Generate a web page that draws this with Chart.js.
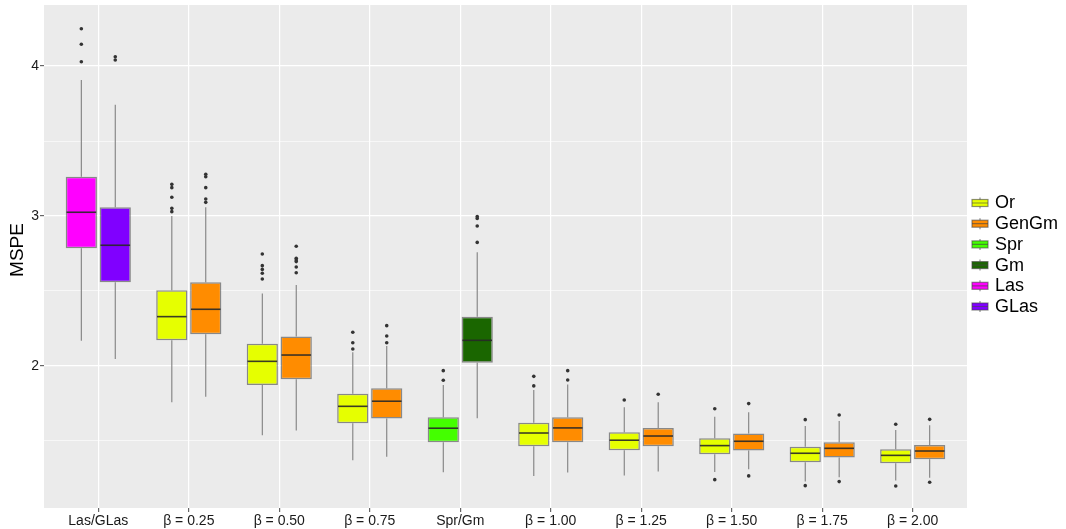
<!DOCTYPE html>
<html lang="en">
<head>
    <meta charset="UTF-8">
    <title>MSPE boxplots</title>
    <script src="https://cdn.jsdelivr.net/npm/chart.js"></script>
    <style>
        body { margin: 0; background: #fff; }
        #wrap { width: 1066px; height: 529px; }
    </style>
</head>
<body>
    <div id="wrap"><canvas id="box-chart"></canvas></div>

    <script>
        const categories = ['Las/GLas', 'β = 0.25', 'β = 0.50', 'β = 0.75', 'Spr/Gm',
            'β = 1.00', 'β = 1.25', 'β = 1.50', 'β = 1.75', 'β = 2.00'];
        const yTicks = [1.5, 2, 2.5, 3, 3.5, 4];

        const methods = ['Or', 'GenGm', 'Spr', 'Gm', 'Las', 'GLas'];
        const methodColors = ['#E6FF00', '#FF8C00', '#44FF00', '#1A6600', '#FF00FF', '#8000FF'];

        // left box of each pair
        const leftMethod = ['Las', 'Or', 'Or', 'Or', 'Spr', 'Or', 'Or', 'Or', 'Or', 'Or'];
        const leftLow = [2.169, 1.758, 1.538, 1.371, 1.291, 1.267, 1.269, 1.293, 1.229, 1.236];
        const leftQ1 = [2.785, 2.171, 1.873, 1.618, 1.491, 1.465, 1.438, 1.411, 1.358, 1.351];
        const leftMedian = [3.025, 2.329, 2.031, 1.731, 1.585, 1.553, 1.505, 1.469, 1.418, 1.404];
        const leftQ3 = [3.262, 2.505, 2.149, 1.815, 1.658, 1.622, 1.558, 1.518, 1.462, 1.444];
        const leftHigh = [3.907, 3.0, 2.484, 2.091, 1.873, 1.84, 1.725, 1.662, 1.6, 1.573];
        const leftOutliers = [
            [4.249, 4.145, 4.029],
            [3.211, 3.189, 3.125, 3.051, 3.029],
            [2.747, 2.669, 2.644, 2.618, 2.58],
            [2.225, 2.155, 2.113],
            [1.969, 1.905],
            [1.931, 1.867],
            [1.773],
            [1.715, 1.242],
            [1.642, 1.202],
            [1.611, 1.2]
        ];

        // right box of each pair
        const rightMethod = ['GLas', 'GenGm', 'GenGm', 'GenGm', 'Gm', 'GenGm', 'GenGm', 'GenGm', 'GenGm', 'GenGm'];
        const rightLow = [2.047, 1.795, 1.569, 1.395, 1.651, 1.289, 1.296, 1.311, 1.258, 1.255];
        const rightQ1 = [2.558, 2.211, 1.911, 1.649, 2.022, 1.491, 1.465, 1.436, 1.389, 1.378];
        const rightMedian = [2.805, 2.378, 2.073, 1.765, 2.171, 1.587, 1.533, 1.498, 1.451, 1.433];
        const rightQ3 = [3.058, 2.558, 2.196, 1.851, 2.329, 1.658, 1.587, 1.549, 1.491, 1.473];
        const rightHigh = [3.742, 3.058, 2.54, 2.133, 2.758, 1.876, 1.758, 1.691, 1.633, 1.604];
        const rightOutliers = [
            [4.062, 4.04],
            [3.278, 3.262, 3.189, 3.113, 3.091],
            [2.798, 2.718, 2.707, 2.696, 2.66, 2.622],
            [2.269, 2.2, 2.155],
            [2.996, 2.984, 2.933, 2.824],
            [1.969, 1.907],
            [1.811],
            [1.749, 1.267],
            [1.673, 1.229],
            [1.644, 1.225]
        ];

        const boxes = [
            { method: leftMethod, low: leftLow, q1: leftQ1, med: leftMedian, q3: leftQ3, high: leftHigh, out: leftOutliers },
            { method: rightMethod, low: rightLow, q1: rightQ1, med: rightMedian, q3: rightQ3, high: rightHigh, out: rightOutliers }
        ];

        function colorOf(name) {
            return methodColors[methods.indexOf(name)];
        }

        const FONT = 'Liberation Sans, Arial, sans-serif';
        const BOX_LINE = 'rgba(70, 70, 70, 0.6)';

        const panelPlugin = {
            id: 'panel',
            beforeDraw(chart) {
                const a = chart.chartArea;
                const ctx = chart.ctx;
                ctx.save();
                ctx.fillStyle = '#EBEBEB';
                ctx.fillRect(a.left, a.top, a.right - a.left, a.bottom - a.top);
                ctx.restore();
            },
            beforeDatasetsDraw(chart) {
                // whiskers, drawn under the boxes
                const y = chart.scales.y;
                const ctx = chart.ctx;
                ctx.save();
                ctx.strokeStyle = '#808080';
                ctx.lineWidth = 1.1;
                boxes.forEach((b, d) => {
                    chart.getDatasetMeta(d).data.forEach((bar, i) => {
                        ctx.beginPath();
                        ctx.moveTo(bar.x, y.getPixelForValue(b.high[i]));
                        ctx.lineTo(bar.x, y.getPixelForValue(b.q3[i]));
                        ctx.moveTo(bar.x, y.getPixelForValue(b.q1[i]));
                        ctx.lineTo(bar.x, y.getPixelForValue(b.low[i]));
                        ctx.stroke();
                    });
                });
                ctx.restore();
            },
            afterDatasetsDraw(chart) {
                const y = chart.scales.y;
                const ctx = chart.ctx;
                ctx.save();
                boxes.forEach((b, d) => {
                    chart.getDatasetMeta(d).data.forEach((bar, i) => {
                        const half = bar.width / 2 - 0.8;
                        const ym = y.getPixelForValue(b.med[i]);
                        ctx.strokeStyle = 'rgba(40, 40, 40, 0.9)';
                        ctx.lineWidth = 1.6;
                        ctx.beginPath();
                        ctx.moveTo(bar.x - half, ym);
                        ctx.lineTo(bar.x + half, ym);
                        ctx.stroke();
                        ctx.fillStyle = '#333333';
                        b.out[i].forEach(v => {
                            ctx.beginPath();
                            ctx.arc(bar.x, y.getPixelForValue(v), 1.8, 0, Math.PI * 2);
                            ctx.fill();
                        });
                    });
                });
                ctx.restore();
            },
            afterDraw(chart) {
                const ctx = chart.ctx;
                ctx.save();
                // y axis title
                ctx.translate(17.5, 250);
                ctx.rotate(-Math.PI / 2);
                ctx.fillStyle = '#000';
                ctx.font = '19px ' + FONT;
                ctx.textAlign = 'center';
                ctx.textBaseline = 'middle';
                ctx.fillText('MSPE', 0, 0);
                ctx.restore();

                // legend
                ctx.save();
                ctx.font = '18px ' + FONT;
                ctx.textBaseline = 'middle';
                methods.forEach((m, k) => {
                    const cy = 203 + k * 20.7;
                    ctx.fillStyle = methodColors[k];
                    ctx.fillRect(972, cy - 3.5, 16, 7);
                    ctx.strokeStyle = BOX_LINE;
                    ctx.lineWidth = 1.2;
                    ctx.strokeRect(972, cy - 3.5, 16, 7);
                    ctx.beginPath();
                    ctx.moveTo(972, cy);
                    ctx.lineTo(988, cy);
                    ctx.moveTo(980, cy - 5.5);
                    ctx.lineTo(980, cy - 3.5);
                    ctx.moveTo(980, cy + 3.5);
                    ctx.lineTo(980, cy + 5.5);
                    ctx.stroke();
                    ctx.fillStyle = '#000';
                    ctx.fillText(m, 995, cy + 0.5);
                });
                ctx.restore();
            }
        };

        const datasets = boxes.map((b, d) => ({
            label: d === 0 ? 'left' : 'right',
            data: categories.map((c, i) => ({ x: i + 1, y: [b.q1[i], b.q3[i]] })),
            backgroundColor: b.method.map(colorOf),
            borderColor: BOX_LINE,
            borderWidth: 1.5,
            borderSkipped: false,
            categoryPercentage: 0.75,
            barPercentage: 0.92
        }));

        new Chart(document.getElementById('box-chart').getContext('2d'), {
            type: 'bar',
            data: { datasets: datasets },
            options: {
                responsive: true,
                maintainAspectRatio: false,
                animation: false,
                layout: { padding: { left: 0, right: 99, top: 5, bottom: 0 } },
                plugins: {
                    legend: { display: false },
                    tooltip: { enabled: false }
                },
                scales: {
                    x: {
                        type: 'linear',
                        min: 0.4,
                        max: 10.6,
                        offset: false,
                        afterBuildTicks: s => { s.ticks = categories.map((c, i) => ({ value: i + 1 })); },
                        afterFit: s => { s.height = 21; s.paddingLeft = 0; s.paddingRight = 0; },
                        border: { display: false },
                        grid: {
                            offset: false,
                            color: '#FFFFFF',
                            lineWidth: 1.2,
                            tickColor: '#666666',
                            tickLength: 4
                        },
                        ticks: {
                            padding: 1,
                            color: '#1a1a1a',
                            font: { family: FONT, size: 14 },
                            maxRotation: 0,
                            autoSkip: false,
                            callback: v => categories[Math.round(v) - 1]
                        }
                    },
                    y: {
                        min: 1.053,
                        max: 4.407,
                        afterBuildTicks: s => { s.ticks = yTicks.map(v => ({ value: v })); },
                        afterFit: s => { s.width = 44; s.paddingTop = 0; s.paddingBottom = 0; },
                        border: { display: false },
                        grid: {
                            color: '#FFFFFF',
                            lineWidth: c => (c.tick && c.tick.value % 1 === 0 ? 1.2 : 0.6),
                            tickColor: c => (c.tick && c.tick.value % 1 === 0 ? '#666666' : 'rgba(0,0,0,0)'),
                            tickLength: 4
                        },
                        ticks: {
                            padding: 1,
                            color: '#1a1a1a',
                            font: { family: FONT, size: 14 },
                            callback: v => (v % 1 === 0 ? String(v) : '')
                        }
                    }
                }
            },
            plugins: [panelPlugin]
        });
    </script>
</body>
</html>
